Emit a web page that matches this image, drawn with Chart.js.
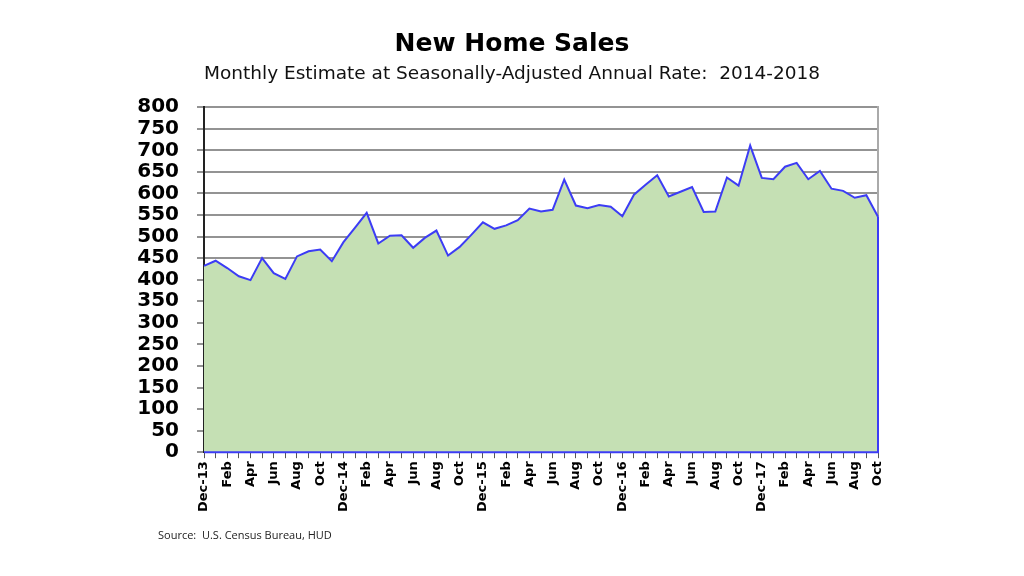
<!DOCTYPE html>
<html>
<head>
<meta charset="utf-8">
<script src="https://cdn.jsdelivr.net/npm/chart.js@4"></script>
<style>
  html, body { margin: 0; padding: 0; background: #fff; }
  #wrap { position: relative; width: 1024px; height: 576px; }
  #source { position: absolute; left: 158px; top: 527px; font-family: "Open Sans", sans-serif; font-size: 11px; color: #222; }
</style>
</head>
<body>
<div id="wrap">
  <canvas id="line-canvas" width="1024" height="576"></canvas>
  <div id="source">Source:&nbsp; U.S. Census Bureau, HUD</div>
</div>
<script>
// months Dec-13 .. Oct-18
var months = ["Dec-13","Jan","Feb","Mar","Apr","May","Jun","Jul","Aug","Sep","Oct","Nov",
  "Dec-14","Jan","Feb","Mar","Apr","May","Jun","Jul","Aug","Sep","Oct","Nov",
  "Dec-15","Jan","Feb","Mar","Apr","May","Jun","Jul","Aug","Sep","Oct","Nov",
  "Dec-16","Jan","Feb","Mar","Apr","May","Jun","Jul","Aug","Sep","Oct","Nov",
  "Dec-17","Jan","Feb","Mar","Apr","May","Jun","Jul","Aug","Sep","Oct"];

// thousands of units, SAAR
var sales = [432, 444, 427, 408, 399, 450, 415, 402, 454, 466, 470, 443,
  487, 521, 555, 484, 502, 503, 474, 497, 514, 456, 476, 504,
  533, 518, 526, 538, 565, 558, 562, 632, 572, 566, 573, 569,
  547, 597, 620, 642, 593, 604, 615, 557, 558, 637, 618, 711,
  636, 633, 662, 671, 633, 652, 611, 606, 590, 596, 546];

var yTicks = [0, 50, 100, 150, 200, 250, 300, 350, 400, 450, 500, 550, 600, 650, 700, 750, 800];

// close the area outline: right edge down to zero
var edgePlugin = {
  id: "edge",
  afterDatasetsDraw: function(chart) {
    var meta = chart.getDatasetMeta(0);
    var last = meta.data[meta.data.length - 1];
    var y0 = chart.scales.y.getPixelForValue(0);
    var ctx = chart.ctx;
    ctx.save();
    ctx.strokeStyle = "#3c3cf5";
    ctx.lineWidth = 2;
    ctx.beginPath();
    ctx.moveTo(last.x, last.y);
    ctx.lineTo(last.x, y0);
    ctx.lineTo(meta.data[0].x, y0);
    ctx.stroke();
    ctx.restore();
  }
};

var ctx = document.getElementById("line-canvas");

var chartData = {
  labels: months,
  datasets: [{
    label: "New Home Sales",
    data: sales,
    backgroundColor: "#c5e0b4",
    borderColor: "#3c3cf5",
    borderWidth: 2,
    fill: "origin",
    tension: 0,
    pointRadius: 0,
    yAxisID: "y"
  }]
};

var options = {
  responsive: false,
  animation: false,
  layout: { padding: { left: 0, right: 0, top: 0, bottom: 61 } },
  plugins: {
    legend: { display: false },
    tooltip: { enabled: false },
    title: {
      display: true,
      text: "New Home Sales",
      color: "#000",
      font: { family: "DejaVu Sans", size: 25, weight: "bold" },
      padding: { top: 29, bottom: 0 }
    },
    subtitle: {
      display: true,
      text: "Monthly Estimate at Seasonally-Adjusted Annual Rate:  2014-2018",
      color: "#111",
      font: { family: "DejaVu Sans", size: 18.5 },
      padding: { top: 4, bottom: 22 }
    }
  },
  scales: {
    x: {
      offset: false,
      grid: { drawOnChartArea: false, color: "#555", tickLength: 6, lineWidth: 1 },
      border: { display: false },
      ticks: {
        autoSkip: false,
        maxRotation: 90,
        minRotation: 90,
        padding: 3,
        color: "#000",
        font: { family: "DejaVu Sans", size: 13, weight: "bold" },
        callback: function(v, i) { return i % 2 === 0 ? months[i] : ""; }
      }
    },
    y: {
      position: "left",
      min: 0,
      max: 800,
      afterBuildTicks: function(s) { s.ticks = yTicks.map(function(v) { return { value: v }; }); },
      afterFit: function(s) { s.width = 204; },
      grid: { color: "#939393", lineWidth: 2, tickLength: 7 },
      border: { color: "#222", width: 2 },
      ticks: {
        autoSkip: false,
        padding: 18,
        color: "#000",
        font: { family: "DejaVu Sans", size: 20, weight: "bold" }
      }
    },
    y2: {
      position: "right",
      min: 0,
      max: 800,
      afterFit: function(s) { s.width = 146; },
      grid: { display: false },
      border: { color: "#aaa", width: 2 },
      ticks: { display: false }
    }
  }
};

var chart = new Chart(ctx, {
  type: "line",
  data: chartData,
  options: options,
  plugins: [edgePlugin]
});
</script>
</body>
</html>
